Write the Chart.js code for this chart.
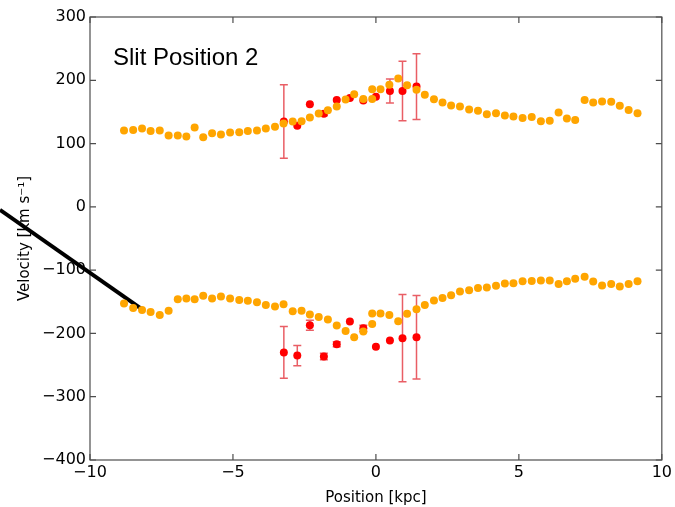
<!DOCTYPE html>
<html>
<head>
<meta charset="utf-8">
<script src="https://cdn.jsdelivr.net/npm/chart.js@4/dist/chart.umd.min.js"></script>
<style>
  html, body { margin: 0; padding: 0; background: #fff; }
  #wrap { width: 675px; height: 507px; }
</style>
</head>
<body>
<div id="wrap"><canvas id="chart" width="675" height="507"></canvas></div>
<script>
// positions [kpc] of the slit samples (orange points)
const positions = [-8.81, -8.49, -8.18, -7.88, -7.56, -7.25, -6.93, -6.63, -6.34, -6.04,
    -5.73, -5.42, -5.10, -4.78, -4.48, -4.16, -3.85, -3.53, -3.23, -2.91,
    -2.60, -2.31, -2.00, -1.68, -1.37, -1.06, -0.76, -0.44, -0.13, -0.13,
    0.16, 0.47, 0.78, 1.09, 1.42, 1.71, 2.03, 2.33, 2.63, 2.94,
    3.26, 3.57, 3.88, 4.20, 4.51, 4.81, 5.13, 5.45, 5.77, 6.08,
    6.39, 6.68, 6.97, 7.30, 7.60, 7.91, 8.23, 8.53, 8.84, 9.15]

const upperVelocity = [120.5, 121.6, 124, 120, 120.5, 112.6, 112.6, 111, 125.3, 110,
    116.4, 114.2, 117.4, 118, 120, 120.5, 123.7, 126.4, 131.6, 134.8,
    135.4, 141, 147.4, 152.8, 158.5, 169.5, 178, 170.6, 170.6, 186,
    186, 193, 203, 192, 185, 177, 170, 165, 160, 158.5,
    154, 151.7, 146.4, 148, 144.3, 142.6, 140.6, 142, 135.4, 136,
    149, 139.5, 137.4, 169, 165, 166.4, 166, 159.6, 153, 148]

const lowerVelocity = [-152.7, -160, -163, -166, -171, -164, -146, -145, -146, -140.6,
    -145, -141.7, -145, -147, -148.5, -150.6, -155, -157.5, -154, -165,
    -164, -170, -174, -178, -187.5, -196, -206, -197, -185, -168.5,
    -168.5, -171, -180.6, -169, -161.6, -155, -148, -144, -139.5, -133.8,
    -131.6, -128.4, -127.5, -124.8, -121, -120.6, -117.4, -117, -116.4, -116.4,
    -122, -117.4, -113.7, -110.6, -118, -124.3, -122, -126, -122, -117.4]

// red measurements with error bars
const redPositions = [-3.22, -2.75, -2.31, -1.82, -1.37, -0.91, -0.44, 0.0, 0.49, 0.93, 1.42]
const redUpper = [135, 128, 162, 147, 169, 172, 168, 174, 183, 183, 190]
const redUpperErr = [58, 0, 0, 3, 0, 0, 0, 0, 19, 47, 52]
const redLower = [-230, -235, -187, -236.5, -217, -181, -192, -221, -211, -207.5, -206]
const redLowerErr = [41, 16, 8, 5, 4, 0, 5, 0, 0, 69, 66]

// black annotation stroke (runs off the left edge of the axes)
const arrowX = [-13.15, -8.15]
const arrowY = [-4.7, -162.7]

const xTicks = [-10, -5, 0, 5, 10]
const yTicks = [-400, -300, -200, -100, 0, 100, 200, 300]

const toPoints = (xs, ys) => xs.map((x, i) => ({x: x, y: ys[i]}))
const minus = v => v < 0 ? "\u2212" + Math.abs(v) : String(v)

const frameColor = "#4d4d4d"

const framePlugin = {
    id: "frame",
    beforeDatasetsDraw(chart) {
        const {ctx, chartArea: a, scales} = chart
        ctx.save()
        ctx.strokeStyle = frameColor
        ctx.lineWidth = 1.2
        ctx.strokeRect(a.left, a.top, a.right - a.left, a.bottom - a.top)
        ctx.beginPath()
        xTicks.forEach(v => {
            const px = scales.x.getPixelForValue(v)
            ctx.moveTo(px, a.bottom); ctx.lineTo(px, a.bottom - 6)
            ctx.moveTo(px, a.top); ctx.lineTo(px, a.top + 6)
        })
        yTicks.forEach(v => {
            const py = scales.y.getPixelForValue(v)
            ctx.moveTo(a.left, py); ctx.lineTo(a.left + 6, py)
            ctx.moveTo(a.right, py); ctx.lineTo(a.right - 6, py)
        })
        ctx.stroke()

        // error bars
        ctx.strokeStyle = "rgba(225, 40, 50, 0.75)"
        ctx.lineWidth = 1.5
        const drawErr = (ys, errs) => {
            redPositions.forEach((x, i) => {
                if (!errs[i]) return
                const px = scales.x.getPixelForValue(x)
                const y1 = scales.y.getPixelForValue(ys[i] + errs[i])
                const y2 = scales.y.getPixelForValue(ys[i] - errs[i])
                ctx.beginPath()
                ctx.moveTo(px, y1); ctx.lineTo(px, y2)
                ctx.moveTo(px - 4, y1); ctx.lineTo(px + 4, y1)
                ctx.moveTo(px - 4, y2); ctx.lineTo(px + 4, y2)
                ctx.stroke()
            })
        }
        drawErr(redUpper, redUpperErr)
        drawErr(redLower, redLowerErr)
        ctx.restore()
    },
    afterDatasetsDraw(chart) {
        const {ctx, chartArea: a} = chart
        ctx.save()
        ctx.fillStyle = "#000"
        ctx.font = "24px 'Liberation Sans', Arial, sans-serif"
        ctx.textBaseline = "middle"
        ctx.fillText("Slit Position 2", a.left + 23, a.top + 41)
        ctx.restore()
    }
}

Chart.defaults.font.family = "'DejaVu Sans', sans-serif"
Chart.defaults.color = "#000"

const dot = color => ({
    type: "scatter",
    backgroundColor: color,
    borderWidth: 0,
    pointRadius: 4,
    pointHoverRadius: 4
})

new Chart(document.getElementById("chart").getContext("2d"), {
    type: "scatter",
    data: {
        datasets: [
            {...dot("#ffa500"), data: toPoints(positions, upperVelocity)},
            {...dot("#ffa500"), data: toPoints(positions, lowerVelocity)},
            {...dot("#ff0000"), data: toPoints(redPositions, redUpper)},
            {...dot("#ff0000"), data: toPoints(redPositions, redLower)},
            {
                type: "line",
                data: toPoints(arrowX, arrowY),
                borderColor: "#000",
                borderWidth: 4,
                pointRadius: 0,
                clip: false
            }
        ]
    },
    options: {
        responsive: false,
        animation: false,
        layout: {padding: {top: 17, right: 13, left: 0, bottom: 0}},
        plugins: {legend: {display: false}, tooltip: {enabled: false}},
        scales: {
            x: {
                type: "linear",
                min: -10,
                max: 10,
                afterBuildTicks: s => { s.ticks = xTicks.map(v => ({value: v})) },
                afterFit: s => { s.height = 47 },
                grid: {display: false, drawTicks: false},
                border: {display: false},
                ticks: {font: {size: 16}, padding: 3, maxRotation: 0, callback: minus},
                title: {display: true, text: "Position [kpc]", font: {size: 15}, padding: {top: 1, bottom: 0}}
            },
            y: {
                type: "linear",
                min: -400,
                max: 300,
                afterBuildTicks: s => { s.ticks = yTicks.map(v => ({value: v})) },
                afterFit: s => { s.width = 90 },
                grid: {display: false, drawTicks: false},
                border: {display: false},
                ticks: {font: {size: 16}, padding: 4, callback: minus},
                title: {display: true, text: "Velocity [km s\u207B\u00B9]", font: {size: 15}, padding: {top: 16, bottom: 4}}
            }
        }
    },
    plugins: [framePlugin]
})
</script>
</body>
</html>
